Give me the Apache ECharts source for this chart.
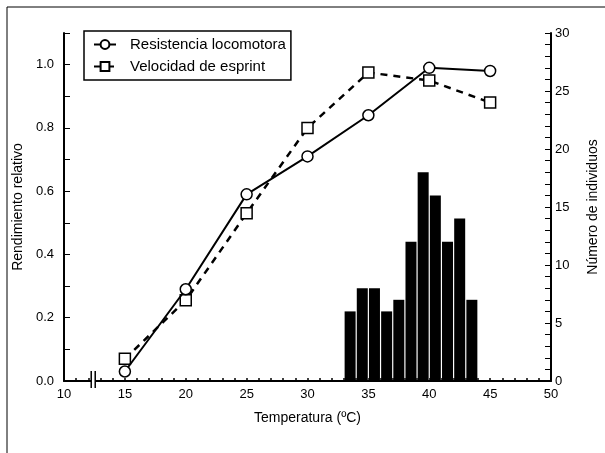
<!DOCTYPE html>
<html>
<head>
<meta charset="utf-8">
<script src="https://cdn.jsdelivr.net/npm/echarts@6/dist/echarts.min.js"></script>
<style>
  html, body { margin: 0; padding: 0; background: #fff; }
  #chart { width: 605px; height: 453px; }
</style>
</head>
<body>
<div id="chart"></div>
<script>
// temperatures (ºC) where performance was measured
const temps = [15, 20, 25, 30, 35, 40, 45];
const resistencia = [0.03, 0.29, 0.59, 0.71, 0.84, 0.99, 0.98];
const velocidad = [0.07, 0.255, 0.53, 0.80, 0.975, 0.95, 0.88];

// histogram of preferred temperatures (right axis)
const histX = [33.5, 34.5, 35.5, 36.5, 37.5, 38.5, 39.5, 40.5, 41.5, 42.5, 43.5];
const histN = [6, 8, 8, 6, 7, 12, 18, 16, 12, 14, 7];

const FONT = 'Liberation Sans, Arial, sans-serif';

const chart = echarts.init(document.getElementById('chart'));

const options = {
  animation: false,
  backgroundColor: '#fff',
  textStyle: { fontFamily: FONT, color: '#000' },
  grid: { left: 64, right: 54, top: 33, bottom: 72, containLabel: false, outerBoundsMode: 'none' },
  graphic: [
    { type: 'line', shape: { x1: 7, y1: 7, x2: 605, y2: 7 }, style: { stroke: '#000', lineWidth: 1 } },
    { type: 'line', shape: { x1: 7, y1: 7, x2: 7, y2: 453 }, style: { stroke: '#000', lineWidth: 1 } }
  ],
  legend: {
    left: 84,
    top: 31,
    orient: 'vertical',
    data: ['Resistencia locomotora', 'Velocidad de esprint'],
    borderColor: '#000',
    borderWidth: 1.5,
    padding: [6, 5, 6, 9],
    itemGap: 7,
    itemWidth: 22,
    itemHeight: 11,
    textStyle: { fontFamily: FONT, fontSize: 15, color: '#000', padding: [0, 0, 0, 9] }
  },
  xAxis: {
    type: 'value',
    min: 10,
    max: 50,
    interval: 5,
    name: 'Temperatura (ºC)',
    nameLocation: 'middle',
    nameGap: 30,
    nameTextStyle: { fontFamily: FONT, fontSize: 14, color: '#000' },
    axisLine: { lineStyle: { color: '#000', width: 2 } },
    axisTick: { inside: true, length: 3, lineStyle: { color: '#000', width: 1.5 } },
    minorTick: { show: true, splitNumber: 5, length: 3, lineStyle: { color: '#000', width: 1.5 } },
    axisLabel: { fontFamily: FONT, fontSize: 13, color: '#000', margin: 7 },
    splitLine: { show: false }
  },
  yAxis: [
    {
      type: 'value',
      min: 0,
      max: 1.1,
      interval: 0.1,
      name: 'Rendimiento relativo',
      nameLocation: 'middle',
      nameGap: 37,
      nameTextStyle: { fontFamily: FONT, fontSize: 14, color: '#000' },
      axisLine: { show: true, lineStyle: { color: '#000', width: 2 } },
      axisTick: { inside: true, length: 6, lineStyle: { color: '#000', width: 1 } },
      axisLabel: {
        fontFamily: FONT, fontSize: 13, color: '#000', margin: 10,
        formatter: v => {
          const k = Math.round(v * 10);
          return (k % 2 === 0 && k <= 10) ? (k / 10).toFixed(1) : '';
        }
      },
      splitLine: { show: false }
    },
    {
      type: 'value',
      min: 0,
      max: 30,
      interval: 5,
      position: 'right',
      name: 'Número de individuos',
      nameLocation: 'middle',
      nameGap: 35,
      nameTextStyle: { fontFamily: FONT, fontSize: 14, color: '#000' },
      axisLine: { show: true, lineStyle: { color: '#000', width: 2 } },
      axisTick: { inside: true, length: 6, lineStyle: { color: '#000', width: 1 } },
      minorTick: { show: true, splitNumber: 5, length: 6, lineStyle: { color: '#000', width: 1 } },
      axisLabel: { fontFamily: FONT, fontSize: 13, color: '#000', margin: 4 },
      splitLine: { show: false }
    }
  ],
  series: [
    {
      name: 'histograma',
      type: 'bar',
      yAxisIndex: 1,
      barWidth: 11,
      z: 1,
      itemStyle: { color: '#000' },
      data: histX.map((x, i) => [x, histN[i]])
    },
    {
      name: 'Resistencia locomotora',
      type: 'line',
      z: 4,
      symbol: 'circle',
      symbolSize: 11,
      lineStyle: { color: '#000', width: 2 },
      itemStyle: { color: '#fff', borderColor: '#000', borderWidth: 1.5 },
      data: temps.map((t, i) => [t, resistencia[i]])
    },
    {
      name: 'Velocidad de esprint',
      type: 'line',
      z: 3,
      symbol: 'rect',
      symbolSize: 11,
      lineStyle: { color: '#000', width: 2.5, type: [7, 6] },
      itemStyle: { color: '#fff', borderColor: '#000', borderWidth: 1.5 },
      data: temps.map((t, i) => [t, velocidad[i]])
    },
    {
      // axis break mark on the x axis
      name: 'break',
      type: 'custom',
      z: 5,
      silent: true,
      data: [[12.4, 0]],
      renderItem: (params, api) => {
        const p = api.coord([api.value(0), api.value(1)]);
        return {
          type: 'group',
          children: [
            { type: 'rect', shape: { x: p[0] - 2, y: p[1] - 2, width: 4, height: 4 }, style: { fill: '#fff' } },
            { type: 'line', shape: { x1: p[0] - 2, y1: p[1] - 10, x2: p[0] - 2, y2: p[1] + 7 }, style: { stroke: '#000', lineWidth: 1.5 } },
            { type: 'line', shape: { x1: p[0] + 2, y1: p[1] - 10, x2: p[0] + 2, y2: p[1] + 7 }, style: { stroke: '#000', lineWidth: 1.5 } }
          ]
        };
      }
    }
  ]
};

chart.setOption(options);
window.addEventListener('resize', () => chart.resize());
</script>
</body>
</html>
